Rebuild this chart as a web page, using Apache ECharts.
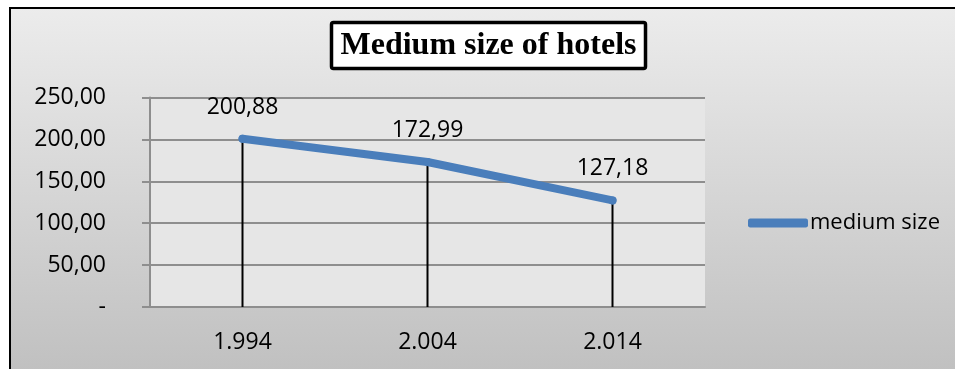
<!DOCTYPE html>
<html>
<head>
<meta charset="utf-8">
<script src="https://cdn.jsdelivr.net/npm/echarts@6/dist/echarts.min.js"></script>
<style>
  html, body { margin: 0; padding: 0; background: #ffffff; }
  #chart { width: 955px; height: 369px; }
</style>
</head>
<body>
<div id="chart"></div>
<script>
// Average hotel size by survey year
const years = ['1.994', '2.004', '2.014'];
const mediumSize = [200.88, 172.99, 127.18];
const yTicks = { min: 0, max: 250, step: 50 };
const seriesName = 'medium size';
const chartTitle = 'Medium size of hotels';

const fmt = v => v.toFixed(2).replace('.', ',');

const chart = echarts.init(document.getElementById('chart'), null, { renderer: 'canvas' });

const gridColor = '#8e8e8e';
const textFont = '"Open Sans", "Noto Sans", sans-serif';

chart.setOption({
  animation: false,
  backgroundColor: '#ffffff',
  graphic: [
    {
      type: 'rect',
      z: -100,
      shape: { x: 10, y: 8, width: 960, height: 380 },
      style: {
        fill: new echarts.graphic.LinearGradient(0, 0, 0, 1, [
          { offset: 0, color: '#ececec' },
          { offset: 1, color: '#bebebe' }
        ]),
        stroke: '#000000',
        lineWidth: 2
      },
      silent: true
    },
    {
      type: 'rect',
      z: 10,
      shape: { x: 331.5, y: 22.5, width: 314, height: 46, r: 2 },
      style: { fill: '#ffffff', stroke: '#000000', lineWidth: 3.5 },
      silent: true
    },
    {
      type: 'text',
      z: 11,
      x: 488.5,
      y: 46,
      style: {
        text: chartTitle,
        fill: '#000000',
        font: 'bold 32px "Liberation Serif", "DejaVu Serif", serif',
        align: 'center',
        verticalAlign: 'middle'
      },
      silent: true
    }
  ],
  grid: {
    left: 150,
    right: 250,
    top: 97.5,
    bottom: 62,
    show: true,
    backgroundColor: '#e6e6e6',
    borderWidth: 0
  },
  legend: {
    data: [{ name: seriesName, icon: 'roundRect' }],
    left: 743,
    top: 207,
    itemWidth: 60,
    itemHeight: 9,
    textStyle: { fontFamily: textFont, fontSize: 22, color: '#000000', padding: [0, 0, 0, -3] }
  },
  xAxis: {
    type: 'category',
    data: years,
    boundaryGap: true,
    axisLine: { show: true, lineStyle: { color: gridColor, width: 2 } },
    axisTick: { show: false },
    axisLabel: { fontFamily: textFont, fontSize: 23, color: '#000000', margin: 24 },
    splitLine: { show: false }
  },
  yAxis: {
    type: 'value',
    min: yTicks.min,
    max: yTicks.max,
    interval: yTicks.step,
    axisLine: { show: true, lineStyle: { color: gridColor, width: 2 } },
    axisTick: { show: true, inside: false, length: 8, lineStyle: { color: gridColor, width: 2 } },
    axisLabel: {
      fontFamily: textFont,
      fontSize: 23,
      color: '#000000',
      margin: 44,
      formatter: v => (v === 0 ? '-' : fmt(v))
    },
    splitLine: { show: true, lineStyle: { color: gridColor, width: 2 } }
  },
  series: [
    {
      // drop lines from each point down to the category axis
      name: 'drop',
      type: 'bar',
      data: mediumSize,
      barWidth: 2,
      barGap: '-100%',
      itemStyle: { color: '#000000' },
      silent: true,
      z: 1
    },
    {
      name: seriesName,
      type: 'line',
      data: mediumSize,
      color: '#4a7ebb',
      symbol: 'circle',
      symbolSize: 8,
      showSymbol: true,
      lineStyle: { width: 8, color: '#4a7ebb', cap: 'round', join: 'round' },
      itemStyle: { color: '#4a7ebb' },
      label: {
        show: true,
        position: 'top',
        distance: 16,
        fontFamily: textFont,
        fontSize: 23,
        color: '#000000',
        formatter: p => fmt(p.value)
      },
      z: 3
    }
  ]
});
</script>
</body>
</html>
